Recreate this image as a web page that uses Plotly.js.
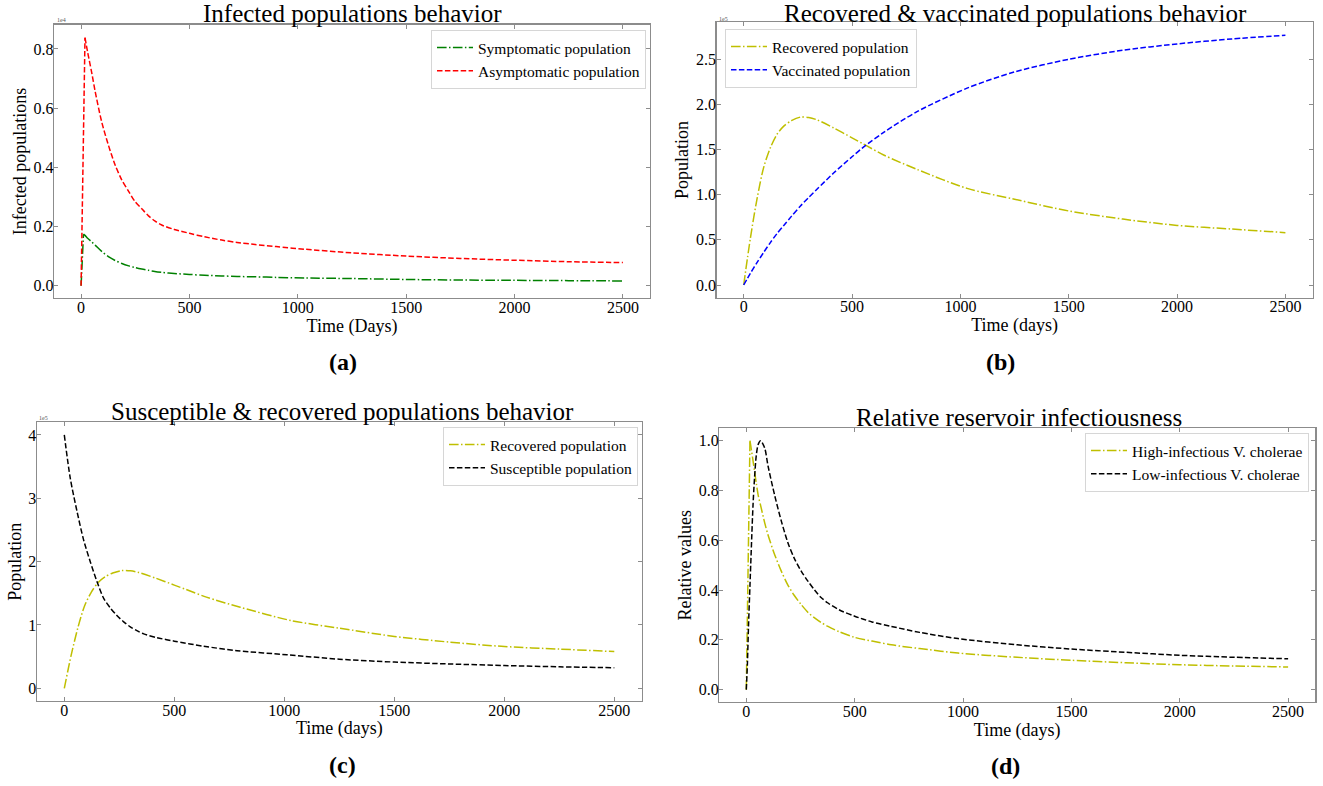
<!DOCTYPE html>
<html>
<head>
<meta charset="utf-8">
<script src="https://cdn.plot.ly/plotly-3.0.1.min.js"></script>
<style>html,body{margin:0;padding:0;background:#fff;}#chart{width:1323px;height:786px;}</style>
</head>
<body>
<div id="chart"></div>
<script>
// ---------- Panel (a): infected populations (units of 1e4) ----------
const daysA = [0, 9, 11, 18, 30, 49, 65, 95, 126, 157, 188, 220, 249, 280, 311, 340, 372, 430, 500, 570, 649, 720, 803, 900, 1034, 1250, 1500, 1750, 2000, 2250, 2500];
const symptomatic = [0, 0.15, 0.174, 0.17, 0.16, 0.148, 0.137, 0.116, 0.098, 0.085, 0.075, 0.067, 0.061, 0.056, 0.052, 0.048, 0.045, 0.041, 0.038, 0.035, 0.033, 0.031, 0.030, 0.028, 0.026, 0.024, 0.021, 0.019, 0.018, 0.017, 0.016];
const asymptomatic = [0, 0.42, 0.51, 0.838, 0.79, 0.72, 0.656, 0.554, 0.475, 0.408, 0.357, 0.318, 0.284, 0.26, 0.236, 0.219, 0.205, 0.190, 0.177, 0.165, 0.154, 0.146, 0.139, 0.132, 0.123, 0.111, 0.100, 0.092, 0.086, 0.081, 0.078];

// ---------- Panels (b) and (c): recovered & vaccinated (units of 1e5) ----------
const daysB = [0, 31, 62, 92, 123, 154, 185, 220, 262, 300, 338, 415, 500, 554, 646, 800, 1031, 1250, 1500, 1750, 2000, 2250, 2500];
const recovered = [0, 0.52, 0.96, 1.30, 1.52, 1.67, 1.76, 1.82, 1.86, 1.855, 1.83, 1.74, 1.63, 1.56, 1.44, 1.28, 1.07, 0.95, 0.82, 0.73, 0.66, 0.62, 0.58];
const vaccinated = [0, 0.13, 0.25, 0.36, 0.47, 0.57, 0.66, 0.76, 0.875, 0.97, 1.06, 1.24, 1.42, 1.53, 1.69, 1.92, 2.18, 2.36, 2.50, 2.60, 2.67, 2.725, 2.765];

// ---------- Panel (c): susceptible (units of 1e5) ----------
const daysC = [0, 27, 58, 88, 118, 148, 179, 209, 239, 270, 300, 330, 361, 421, 500, 633, 785, 1012, 1250, 1500, 1750, 2000, 2250, 2500];
const susceptible = [4.0, 3.32, 2.79, 2.34, 2.0, 1.69, 1.42, 1.27, 1.15, 1.05, 0.97, 0.91, 0.86, 0.80, 0.745, 0.665, 0.595, 0.53, 0.46, 0.415, 0.385, 0.36, 0.34, 0.325];

// ---------- Panel (d): relative reservoir infectiousness ----------
const daysD = [0, 5, 10, 17, 31, 38, 46, 55, 66, 85, 100, 131, 162, 192, 220, 254, 285, 315, 345, 377, 430, 500, 580, 669, 800, 977, 1250, 1500, 1750, 2000, 2250, 2500];
const highInfectious = [0, 0.35, 0.65, 1.0, 0.92, 0.877, 0.83, 0.78, 0.74, 0.67, 0.622, 0.542, 0.475, 0.42, 0.38, 0.341, 0.31, 0.288, 0.27, 0.254, 0.232, 0.21, 0.195, 0.18, 0.165, 0.147, 0.13, 0.118, 0.108, 0.10, 0.095, 0.091];
const lowInfectious = [0, 0.10, 0.25, 0.42, 0.74, 0.85, 0.94, 0.985, 1.0, 0.97, 0.90, 0.78, 0.676, 0.59, 0.53, 0.475, 0.435, 0.40, 0.37, 0.348, 0.32, 0.295, 0.272, 0.254, 0.23, 0.205, 0.18, 0.163, 0.15, 0.138, 0.13, 0.124];

// ---------- Tick labels ----------
const xTicks = [0, 500, 1000, 1500, 2000, 2500];
const yTicksA = [0, 0.2, 0.4, 0.6, 0.8];
const yTicksB = [0, 0.5, 1.0, 1.5, 2.0, 2.5];
const yTicksC = [0, 1, 2, 3, 4];
const yTicksD = [0, 0.2, 0.4, 0.6, 0.8, 1.0];

const W = 1323, H = 786;
const FONT = 'Liberation Serif, Times New Roman, serif';
const px = v => v / W;
const py = v => 1 - v / H;

const YEL = '#bfbf00';
const DASH = '5.5px,2.4px';
const DASHDOT = '9.6px,2.4px,1.5px,2.4px';

function line(x, y, name, color, dash, xa, ya, leg, shape, showlegend) {
  return {x: x, y: y, name: name, type: 'scatter', mode: 'lines',
    line: {color: color, width: 1.5, dash: dash, shape: shape || 'linear', smoothing: 0.8},
    xaxis: xa, yaxis: ya, legend: leg, legendgroup: leg + name,
    showlegend: showlegend !== false};
}

// Curves with a sharp peak: straight rise to the peak, smooth decay after it.
function peaked(x, y, name, color, dash, xa, ya, leg) {
  const k = y.indexOf(Math.max.apply(null, y));
  return [
    line(x.slice(k), y.slice(k), name, color, dash, xa, ya, leg, 'spline'),
    line(x.slice(0, k + 1), y.slice(0, k + 1), name, color, dash, xa, ya, leg, 'linear', false)
  ];
}

const data = [].concat(
  peaked(daysA, symptomatic, 'Symptomatic population', 'green', DASHDOT, 'x', 'y', 'legend'),
  peaked(daysA, asymptomatic, 'Asymptomatic population', '#ff0000', DASH, 'x', 'y', 'legend'),
  [line(daysB, recovered, 'Recovered population', YEL, DASHDOT, 'x2', 'y2', 'legend2', 'spline'),
   line(daysB, vaccinated, 'Vaccinated population', '#0000ff', DASH, 'x2', 'y2', 'legend2', 'spline'),
   line(daysB, recovered, 'Recovered population', YEL, DASHDOT, 'x3', 'y3', 'legend3', 'spline'),
   line(daysC, susceptible, 'Susceptible population', '#000000', DASH, 'x3', 'y3', 'legend3', 'spline')],
  peaked(daysD, highInfectious, 'High-infectious V. cholerae', YEL, DASHDOT, 'x4', 'y4', 'legend4'),
  [line(daysD, lowInfectious, 'Low-infectious V. cholerae', '#000000', DASH, 'x4', 'y4', 'legend4', 'spline')]
);

function xaxis(d0, d1, anchor, title) {
  return {domain: [px(d0), px(d1)], anchor: anchor, range: [-125, 2625],
    tickvals: xTicks, ticktext: xTicks.map(String),
    showline: true, linecolor: '#8c8c8c', linewidth: 1.3, mirror: 'ticks',
    ticks: 'inside', ticklen: 4, tickcolor: '#8c8c8c', tickwidth: 1,
    ticklabelstandoff: -6,
    showgrid: false, zeroline: false,
    tickfont: {family: FONT, size: 16, color: '#000'},
    title: {text: title, font: {family: FONT, size: 18, color: '#000'}, standoff: 2}};
}
function yaxis(d0, d1, anchor, range, ticks, fmt, title) {
  return {domain: [py(d1), py(d0)], anchor: anchor, range: range,
    tickvals: ticks, ticktext: ticks.map(fmt),
    showline: true, linecolor: '#8c8c8c', linewidth: 1.3, mirror: 'ticks',
    ticks: 'inside', ticklen: 4, tickcolor: '#8c8c8c', tickwidth: 1,
    ticklabelstandoff: -4,
    showgrid: false, zeroline: false,
    tickfont: {family: FONT, size: 16, color: '#000'},
    title: {text: title, font: {family: FONT, size: 18, color: '#000'}, standoff: 2}};
}
const f1 = v => v.toFixed(1);
const f0 = v => v.toFixed(0);

function legend(x, y, xanchor) {
  return {x: x, y: y, xanchor: xanchor, yanchor: 'top', xref: 'paper', yref: 'paper',
    bgcolor: '#ffffff', bordercolor: '#d6d6d6', borderwidth: 1, traceorder: 'normal',
    itemwidth: 36,
    font: {family: FONT, size: 15.5, color: '#000'}, tracegroupgap: 0};
}

function ann(text, x, y, size, opts) {
  return Object.assign({text: text, x: px(x), y: py(y), xref: 'paper', yref: 'paper',
    showarrow: false, xanchor: 'center', yanchor: 'middle',
    font: {family: FONT, size: size, color: '#000'}}, opts || {});
}

const layout = {
  width: W, height: H,
  margin: {l: 0, r: 0, t: 0, b: 0},
  paper_bgcolor: '#ffffff', plot_bgcolor: '#ffffff',
  font: {family: FONT},
  showlegend: true,
  xaxis: xaxis(54, 650, 'y', 'Time (Days)'),
  yaxis: yaxis(24.7, 298.1, 'x', [-0.042, 0.882], yTicksA, f1, 'Infected populations'),
  xaxis2: xaxis(716.6, 1312.5, 'y2', 'Time (days)'),
  yaxis2: yaxis(22.4, 297.5, 'x2', [-0.1385, 2.9085], yTicksB, f1, 'Population'),
  xaxis3: xaxis(36.8, 641.8, 'y3', 'Time (days)'),
  yaxis3: yaxis(422.3, 701, 'x3', [-0.2, 4.2], yTicksC, f0, 'Population'),
  xaxis4: xaxis(719.2, 1315.2, 'y4', 'Time (days)'),
  yaxis4: yaxis(428.2, 702.1, 'x4', [-0.05, 1.05], yTicksD, f1, 'Relative values'),
  legend: legend(px(646), py(30), 'right'),
  legend2: legend(px(725), py(29), 'left'),
  legend3: legend(px(638), py(427), 'right'),
  legend4: legend(px(1309), py(433), 'right'),
  annotations: [
    ann('Infected populations behavior', 352, 14, 25),
    ann('Recovered &amp; vaccinated populations behavior', 1015, 14, 25),
    ann('Susceptible &amp; recovered populations behavior', 342, 411, 25),
    ann('Relative reservoir infectiousness', 1019, 417, 25),
    ann('<b>(a)</b>', 343, 362, 24),
    ann('<b>(b)</b>', 1000, 362, 24),
    ann('<b>(c)</b>', 342, 765, 24),
    ann('<b>(d)</b>', 1005, 766, 24),
    ann('1e4', 55, 20, 6, {xanchor: 'left', font: {family: FONT, size: 6, color: '#555'}}),
    ann('1e5', 717, 19, 6, {xanchor: 'left', font: {family: FONT, size: 6, color: '#555'}}),
    ann('1e5', 37, 418, 6, {xanchor: 'left', font: {family: FONT, size: 6, color: '#555'}})
  ]
};

Plotly.newPlot('chart', data, layout, {displayModeBar: false, staticPlot: true});
</script>
</body>
</html>
